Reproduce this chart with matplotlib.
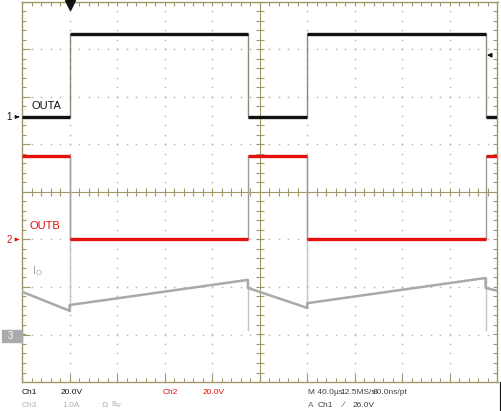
"""
Oscilloscope capture: OUTA / OUTB gate outputs and output current I_O,
redrawn as a graticule plot (40 us/div, 10 x 8 divisions).
"""
import matplotlib

matplotlib.use("Agg")
import matplotlib.pyplot as plt
from matplotlib.patches import Rectangle
import numpy as np

plt.rcParams["font.family"] = ["Liberation Sans", "DejaVu Sans"]

# --- data (us, V, A) -------------------------------------------------------
T_START, T_END = -200.0, 200.0
edge_times = [-160.0, -10.0, 40.0, 190.0]
outa_levels = [0.0, 35.0, 0.0, 35.0, 0.0]
outb_levels = [35.0, 0.0, 35.0, 0.0, 35.0]

io_t = [-200, -160, -160, -10, -10, 40, 40, 190, 190, 200]
io_a = [0.93, 0.53, 0.65, 1.18, 1.01, 0.59, 0.69, 1.22, 1.01, 0.95]
io_spike_t = [-160, -10, 40, 190]
io_spike_a = [3.75, 0.13, 3.75, 0.13]

trigger_level = 26.0

# --- scope settings --------------------------------------------------------
T_DIV = 40.0
CH1_VDIV, CH1_OFF = 20.0, 1.58
CH2_VDIV, CH2_OFF = 20.0, -1.0
CH3_ADIV, CH3_OFF = 1.0, -3.03

W, H = 502, 411
GRID = "#a0976a"
DOT = "#b8b8b8"
BLACK = "#111111"
RED = "#e8100c"
IO_GRAY = "#a9a9a9"


def fx(px):
    return px / W


def fy(py):
    return 1 - py / H


def graticule(ax):
    ppd = 47.5  # pixels per division
    minor_x = np.arange(-5, 5.001, 0.2)
    minor_y = np.arange(-4, 4.001, 0.2)
    # dotted grid lines
    for xv in [-4, -3, -2, -1, 1, 2, 3, 4]:
        ax.plot(np.full_like(minor_y, xv), minor_y, ls="none", marker="s",
                ms=1.1, mew=0, color=DOT, zorder=1)
    for yv in [-3, -2, -1, 1, 2, 3]:
        ax.plot(minor_x, np.full_like(minor_x, yv), ls="none", marker="s",
                ms=1.1, mew=0, color=DOT, zorder=1)
    # center axes with ticks
    ax.axhline(0, color=GRID, lw=0.8, zorder=1)
    ax.axvline(0, color=GRID, lw=0.8, zorder=1)
    t = 4.0 / ppd
    ax.vlines(minor_x, -t, t, color=GRID, lw=0.8, zorder=1)
    ax.hlines(minor_y, -t, t, color=GRID, lw=0.8, zorder=1)
    # border ticks
    tb = 4.0 / ppd
    tm = 8.0 / ppd
    ax.vlines(minor_x, 4 - tb, 4, color=GRID, lw=0.8, zorder=1)
    ax.vlines(minor_x, -4, -4 + tb, color=GRID, lw=0.8, zorder=1)
    ax.vlines(np.arange(-5, 6), -4, -4 + tm, color=GRID, lw=0.8, zorder=1)
    ax.hlines(minor_y, -5, -5 + tb, color=GRID, lw=0.8, zorder=1)
    ax.hlines(minor_y, 5 - tb, 5, color=GRID, lw=0.8, zorder=1)
    ax.hlines(np.arange(-4, 5), -5, -5 + tm, color=GRID, lw=0.8, zorder=1)
    for s in ax.spines.values():
        s.set_color(GRID)
        s.set_linewidth(1.0)


def step_trace(ax, levels, vdiv, off, color, edge_color, lw):
    starts = [T_START] + edge_times
    ends = edge_times + [T_END]
    y = [off + v / vdiv for v in levels]
    ax.hlines(y, np.array(starts) / T_DIV, np.array(ends) / T_DIV,
              color=color, lw=lw, zorder=4)
    for i, t in enumerate(edge_times):
        ax.plot([t / T_DIV, t / T_DIV], [y[i], y[i + 1]], color=edge_color,
                lw=1.0, zorder=3)


fig = plt.figure(figsize=(W / 100, H / 100), dpi=100)
ax = fig.add_axes([fx(22), fy(382), fx(497.5) - fx(22), fy(2) - fy(382)])
ax.set_xlim(-5, 5)
ax.set_ylim(-4, 4)
ax.set_xticks([])
ax.set_yticks([])
graticule(ax)

# I_O (channel 3)
ax.plot(np.array(io_t) / T_DIV, CH3_OFF + np.array(io_a) / CH3_ADIV,
        color=IO_GRAY, lw=1.8, zorder=3)
for t, a, base in zip(io_spike_t, io_spike_a, [0.53, 1.18, 0.59, 1.22]):
    ax.plot([t / T_DIV] * 2, [CH3_OFF + base / CH3_ADIV, CH3_OFF + a / CH3_ADIV],
            color="#c4c4c4", lw=1.0, zorder=2)

step_trace(ax, outb_levels, CH2_VDIV, CH2_OFF, RED, "#a09a9a", 2.4)
step_trace(ax, outa_levels, CH1_VDIV, CH1_OFF, BLACK, "#8c8a78", 2.4)

# trigger position and level markers
ax.plot([edge_times[0] / T_DIV], [3.93], marker="v", ms=6.5, color=BLACK,
        clip_on=False, zorder=6)
ty = CH1_OFF + trigger_level / CH1_VDIV
ax.annotate("", xy=(4.72, ty), xytext=(4.9, ty),
            arrowprops=dict(arrowstyle="-|>", color=BLACK, lw=1.0,
                            mutation_scale=6), zorder=6)

# channel ground markers
fig.text(fx(9), fy(117), "1", color=BLACK, fontsize=7, ha="center", va="center")
ax.annotate("", xy=(-5.0, CH1_OFF), xytext=(-5.15, CH1_OFF),
            arrowprops=dict(arrowstyle="-|>", color=BLACK, lw=0.8,
                            mutation_scale=5), annotation_clip=False)
fig.text(fx(9), fy(240), "2", color=RED, fontsize=7, ha="center", va="center")
ax.annotate("", xy=(-5.0, CH2_OFF), xytext=(-5.15, CH2_OFF),
            arrowprops=dict(arrowstyle="-|>", color=RED, lw=0.8,
                            mutation_scale=5), annotation_clip=False)
fig.patches.append(Rectangle((fx(2), fy(342)), fx(20), fy(330) - fy(342),
                             transform=fig.transFigure, color="#aaaaaa"))
fig.text(fx(10), fy(336), "3", color="white", fontsize=7, ha="center", va="center")
ax.annotate("", xy=(-5.0, CH3_OFF), xytext=(-5.12, CH3_OFF),
            arrowprops=dict(arrowstyle="-|>", color="white", lw=0.8,
                            mutation_scale=5), annotation_clip=False)

# trace labels
fig.text(fx(32), fy(106), "OUTA", color=BLACK, fontsize=8, va="center")
fig.text(fx(30), fy(226), "OUTB", color=RED, fontsize=8, va="center")
fig.text(fx(32), fy(271), r"I$_\mathregular{O}$", color=IO_GRAY, fontsize=8,
         va="center")

# status bar
small = 6.0


def status(px, py, s, color, size=small):
    fig.text(fx(px), fy(py), s, color=color, fontsize=size, va="center")


status(22, 392, "Ch1", BLACK)
status(61, 392, "20.0V", BLACK)
status(163, 392, "Ch2", RED)
status(203, 392, "20.0V", RED)
status(22, 405, "Ch3", "#b0b0b0")
status(62, 405, "1.0A", "#b0b0b0")
status(102, 405, "Ω", "#b0b0b0")
status(111, 405, r"B$_\mathregular{W}$", "#b0b0b0", small - 1)
status(308, 392, "M 40.0µs", "#404040")
status(340, 392, "12.5MS/s", "#404040")
status(373, 392, "80.0ns/pt", "#404040")
status(308, 405, "A", "#707070")
status(318, 405, "Ch1", "#404040")
status(343, 405, "∕", "#404040")
status(353, 405, "26.0V", "#404040")
fig.add_artist(plt.Line2D([fx(500), fx(500)], [fy(411), fy(382)],
                          color=BLACK, lw=0.8))

fig.savefig("out.png", dpi=100)
